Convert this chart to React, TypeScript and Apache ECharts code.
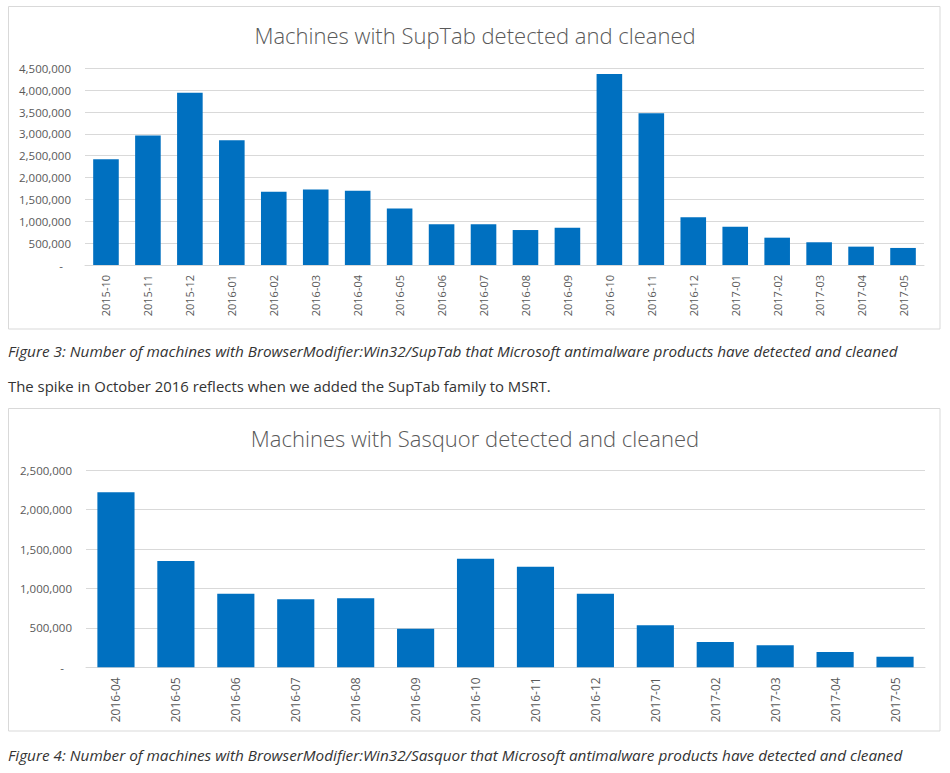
import React, { useEffect, useRef } from "react";
import * as echarts from "echarts";

const months1 = ["2015-10","2015-11","2015-12","2016-01","2016-02","2016-03","2016-04","2016-05","2016-06","2016-07","2016-08","2016-09","2016-10","2016-11","2016-12","2017-01","2017-02","2017-03","2017-04","2017-05"];
const suptab = [2420000,2960000,3940000,2855000,1675000,1730000,1700000,1290000,930000,930000,800000,850000,4370000,3470000,1090000,875000,625000,520000,420000,390000];

const months2 = ["2016-04","2016-05","2016-06","2016-07","2016-08","2016-09","2016-10","2016-11","2016-12","2017-01","2017-02","2017-03","2017-04","2017-05"];
const sasquor = [2220000,1350000,934000,863000,876000,490000,1378000,1277000,934000,533000,320000,279000,194000,135000];

const title1 = "Machines with SupTab detected and cleaned";
const title2 = "Machines with Sasquor detected and cleaned";
const caption3 = "Figure 3: Number of machines with BrowserModifier:Win32/SupTab that Microsoft antimalware products have detected and cleaned";
const paragraph = "The spike in October 2016 reflects when we added the SupTab family to MSRT.";
const caption4 = "Figure 4: Number of machines with BrowserModifier:Win32/Sasquor that Microsoft antimalware products have detected and cleaned";

const FONT = "'Open Sans', 'Noto Sans', sans-serif";
const GRAY = "#595959";
const GRID = "#d9d9d9";
const BLUE = "#0070c0";

const yFmt = (v: number) => (v === 0 ? "{z|-}" : v.toLocaleString("en-US"));

export default function App() {
  const ref = useRef<HTMLDivElement>(null);
  useEffect(() => {
    document.body.style.margin = "0";
    const chart = echarts.init(ref.current!, undefined, { renderer: "svg" });
    const yAxisCommon = {
      type: "value",
      min: 0,
      axisLine: { show: false },
      axisTick: { show: false },
      splitLine: { lineStyle: { color: GRID, width: 1 } },
      axisLabel: {
        color: GRAY,
        fontFamily: FONT,
        fontSize: 11.5,
        margin: 14,
        formatter: yFmt,
        rich: { z: { padding: [0, 8, 0, 0], color: GRAY, fontFamily: FONT, fontSize: 11.5 } },
      },
    };
    const xAxisCommon = {
      type: "category",
      axisLine: { lineStyle: { color: GRID, width: 1 } },
      axisTick: { show: false },
      axisLabel: { rotate: 90, color: GRAY, fontFamily: FONT, margin: 10 },
    };
    chart.setOption({
      animation: false,
      backgroundColor: "#ffffff",
      graphic: [
        { type: "rect", z: -10, shape: { x: 8.5, y: 6.5, width: 931.5, height: 322.5 }, style: { fill: "#fff", stroke: GRID, lineWidth: 1 } },
        { type: "rect", z: -10, shape: { x: 8.5, y: 408.5, width: 931.5, height: 322.5 }, style: { fill: "#fff", stroke: GRID, lineWidth: 1 } },
        { type: "text", x: 8, y: 351, style: { text: caption3, fill: "#333", font: `italic 15.3px ${FONT}`, verticalAlign: "middle" } },
        { type: "text", x: 8, y: 385.5, style: { text: paragraph, fill: "#333", font: `14.9px ${FONT}`, verticalAlign: "middle" } },
        { type: "text", x: 8, y: 754.5, style: { text: caption4, fill: "#333", font: `italic 15.3px ${FONT}`, verticalAlign: "middle" } },
      ],
      title: [
        { text: title1, left: "center", top: 19, textStyle: { color: GRAY, fontFamily: FONT, fontWeight: 300, fontSize: 22 } },
        { text: title2, left: "center", top: 422, textStyle: { color: GRAY, fontFamily: FONT, fontWeight: 300, fontSize: 22 } },
      ],
      grid: [
        { left: 85, right: 26, top: 68.3, height: 196.7 },
        { left: 86, right: 25, top: 470.3, height: 197 },
      ],
      xAxis: [
        { ...xAxisCommon, gridIndex: 0, data: months1, axisLabel: { ...xAxisCommon.axisLabel, fontSize: 11 } },
        { ...xAxisCommon, gridIndex: 1, data: months2, axisLabel: { ...xAxisCommon.axisLabel, fontSize: 12 } },
      ],
      yAxis: [
        { ...yAxisCommon, gridIndex: 0, max: 4500000, interval: 500000 },
        { ...yAxisCommon, gridIndex: 1, max: 2500000, interval: 500000 },
      ],
      series: [
        { type: "bar", xAxisIndex: 0, yAxisIndex: 0, data: suptab, barCategoryGap: "39%", itemStyle: { color: BLUE } },
        { type: "bar", xAxisIndex: 1, yAxisIndex: 1, data: sasquor, barCategoryGap: "38%", itemStyle: { color: BLUE } },
      ],
    });
    return () => chart.dispose();
  }, []);
  return <div ref={ref} style={{ position: "absolute", left: 0, top: 0, width: 950, height: 773 }} />;
}
